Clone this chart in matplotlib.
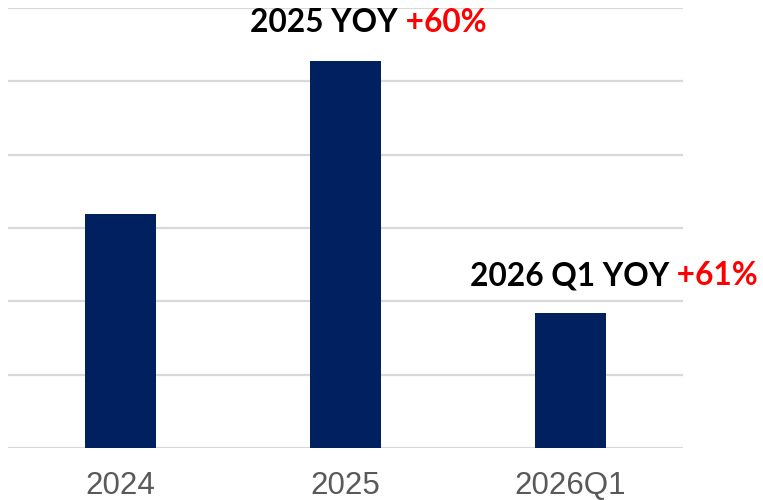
import matplotlib.pyplot as plt

categories = ["2024", "2025", "2026Q1"]
values = [3.19, 5.28, 1.84]
notes = [
    # (black part, red part, x, y) - y is the text's vertical centre
    ("2025 YOY", " +60%", 0.576, 5.80),
    ("2026 Q1 YOY", " +61%", 1.553, 2.35),
]

BAR_COLOR = "#002060"
GRID_COLOR = "#d9d9d9"

fig = plt.figure(figsize=(7.63, 5.0), dpi=100)
ax = fig.add_axes([8 / 763, 52 / 500, 675 / 763, 440 / 500])

xs = range(len(categories))
ax.bar(xs, values, width=0.316, color=BAR_COLOR, zorder=3)

ax.set_xlim(-0.5, len(categories) - 0.5)
ax.set_ylim(0, 6)
ax.set_yticks(range(0, 7))
ax.yaxis.grid(True, color=GRID_COLOR, linewidth=1.6, zorder=0)
ax.set_axisbelow(True)
ax.tick_params(axis="y", left=False, labelleft=False)
ax.set_xticks(list(xs))
ax.set_xticklabels(categories, fontsize=22.5, color="#595959", family="Liberation Sans")
ax.tick_params(axis="x", length=0, pad=16.5)
for side in ["top", "right", "left", "bottom"]:
    ax.spines[side].set_visible(False)

for black, red, x, y in notes:
    t = ax.text(x, y, black, fontsize=22.8, fontweight="bold", family="Lato",
                color="black", ha="left", va="center")
    ax.annotate(red, xy=(1, 0.5), xycoords=t, fontsize=22.8, fontweight="bold",
                family="Lato", color="#ff0000", ha="left", va="center")

fig.savefig("out.png", dpi=100)
